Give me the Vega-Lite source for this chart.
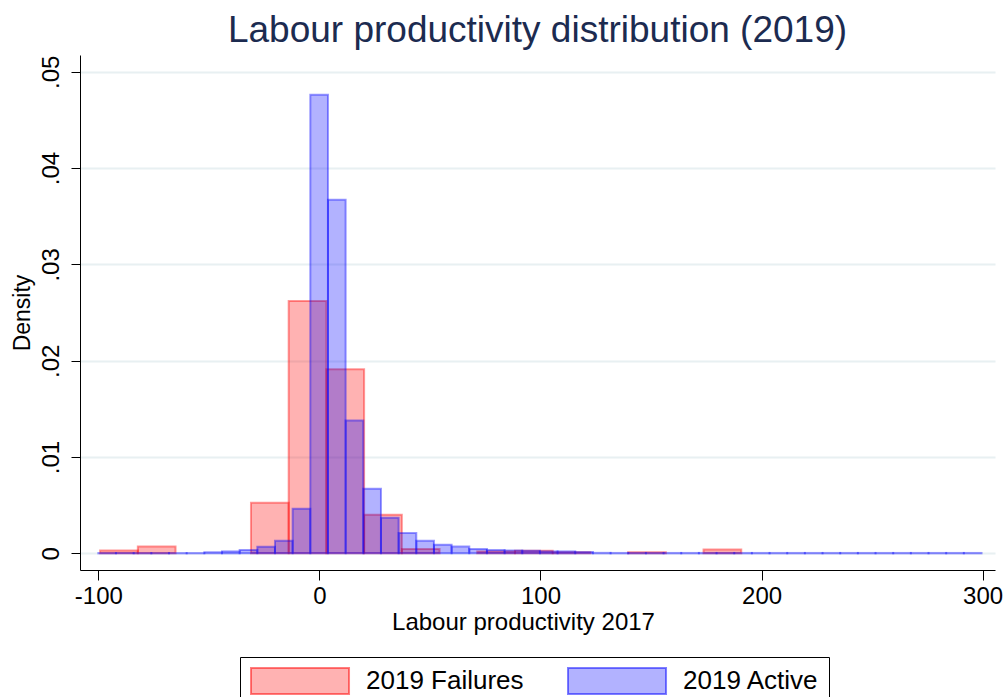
{
  "$schema": "https://vega.github.io/schema/vega-lite/v6.json",
  "width": 915,
  "height": 515,
  "autosize": {"type": "none"},
  "padding": {"left": 80, "top": 55, "right": 8, "bottom": 127},
  "background": "white",
  "title": {
    "text": "Labour productivity distribution (2019)",
    "font": "Liberation Sans",
    "fontSize": 37,
    "fontWeight": "normal",
    "color": "#1c2b50",
    "anchor": "middle",
    "baseline": "alphabetic",
    "offset": 13,
    "dy": 37,
    "frame": "group"
  },
  "config": {
    "font": "Liberation Sans",
    "view": {"stroke": null},
    "axis": {
      "labelColor": "black",
      "titleColor": "black",
      "domainColor": "black",
      "tickColor": "black",
      "labelFont": "Liberation Sans",
      "titleFont": "Liberation Sans",
      "titleFontWeight": "normal"
    }
  },
  "data": {
    "values": [
      {"series": "2019 Failures", "x0": -99.2, "x1": -82.14, "density": 0.00029},
      {"series": "2019 Failures", "x0": -82.14, "x1": -65.08, "density": 0.00072},
      {"series": "2019 Failures", "x0": -30.96, "x1": -13.9, "density": 0.00525},
      {"series": "2019 Failures", "x0": -13.9, "x1": 3.16, "density": 0.0262},
      {"series": "2019 Failures", "x0": 3.16, "x1": 20.22, "density": 0.0191},
      {"series": "2019 Failures", "x0": 20.22, "x1": 37.28, "density": 0.004},
      {"series": "2019 Failures", "x0": 37.28, "x1": 54.34, "density": 0.00045},
      {"series": "2019 Failures", "x0": 71.4, "x1": 88.46, "density": 0.0002},
      {"series": "2019 Failures", "x0": 88.46, "x1": 105.52, "density": 0.00028},
      {"series": "2019 Failures", "x0": 105.52, "x1": 122.58, "density": 0.0001},
      {"series": "2019 Failures", "x0": 139.64, "x1": 156.7, "density": 0.00012},
      {"series": "2019 Failures", "x0": 173.76, "x1": 190.82, "density": 0.0004},
      {"series": "2019 Active", "x0": -100.0, "x1": -92.01, "density": 0.00003},
      {"series": "2019 Active", "x0": -92.01, "x1": -84.02, "density": 0.00003},
      {"series": "2019 Active", "x0": -84.02, "x1": -76.03, "density": 0.00003},
      {"series": "2019 Active", "x0": -76.03, "x1": -68.04, "density": 0.00003},
      {"series": "2019 Active", "x0": -68.04, "x1": -60.05, "density": 0.00003},
      {"series": "2019 Active", "x0": -60.05, "x1": -52.06, "density": 0.00003},
      {"series": "2019 Active", "x0": -52.06, "x1": -44.07, "density": 0.00012},
      {"series": "2019 Active", "x0": -44.07, "x1": -36.08, "density": 0.0002},
      {"series": "2019 Active", "x0": -36.08, "x1": -28.09, "density": 0.00035},
      {"series": "2019 Active", "x0": -28.09, "x1": -20.1, "density": 0.00068},
      {"series": "2019 Active", "x0": -20.1, "x1": -12.11, "density": 0.0013},
      {"series": "2019 Active", "x0": -12.11, "x1": -4.12, "density": 0.00463},
      {"series": "2019 Active", "x0": -4.12, "x1": 3.87, "density": 0.0476},
      {"series": "2019 Active", "x0": 3.87, "x1": 11.86, "density": 0.0367},
      {"series": "2019 Active", "x0": 11.86, "x1": 19.85, "density": 0.0138},
      {"series": "2019 Active", "x0": 19.85, "x1": 27.84, "density": 0.0067},
      {"series": "2019 Active", "x0": 27.84, "x1": 35.83, "density": 0.0037},
      {"series": "2019 Active", "x0": 35.83, "x1": 43.82, "density": 0.0021},
      {"series": "2019 Active", "x0": 43.82, "x1": 51.81, "density": 0.0013},
      {"series": "2019 Active", "x0": 51.81, "x1": 59.8, "density": 0.0009},
      {"series": "2019 Active", "x0": 59.8, "x1": 67.79, "density": 0.0007},
      {"series": "2019 Active", "x0": 67.79, "x1": 75.78, "density": 0.00045},
      {"series": "2019 Active", "x0": 75.78, "x1": 83.77, "density": 0.00034},
      {"series": "2019 Active", "x0": 83.77, "x1": 91.76, "density": 0.0003},
      {"series": "2019 Active", "x0": 91.76, "x1": 99.75, "density": 0.00028},
      {"series": "2019 Active", "x0": 99.75, "x1": 107.74, "density": 0.0002},
      {"series": "2019 Active", "x0": 107.74, "x1": 115.73, "density": 0.0002},
      {"series": "2019 Active", "x0": 115.73, "x1": 123.72, "density": 0.00015},
      {"series": "2019 Active", "x0": 123.72, "x1": 131.71, "density": 0.00005},
      {"series": "2019 Active", "x0": 131.71, "x1": 139.7, "density": 0.00004},
      {"series": "2019 Active", "x0": 139.7, "x1": 147.69, "density": 0.00004},
      {"series": "2019 Active", "x0": 147.69, "x1": 155.68, "density": 0.00004},
      {"series": "2019 Active", "x0": 155.68, "x1": 163.67, "density": 0.00004},
      {"series": "2019 Active", "x0": 163.67, "x1": 171.66, "density": 0.00004},
      {"series": "2019 Active", "x0": 171.66, "x1": 179.65, "density": 0.00004},
      {"series": "2019 Active", "x0": 179.65, "x1": 187.64, "density": 0.00004},
      {"series": "2019 Active", "x0": 187.64, "x1": 195.63, "density": 0.00004},
      {"series": "2019 Active", "x0": 195.63, "x1": 203.62, "density": 0.00004},
      {"series": "2019 Active", "x0": 203.62, "x1": 211.61, "density": 0.00004},
      {"series": "2019 Active", "x0": 211.61, "x1": 219.6, "density": 0.00004},
      {"series": "2019 Active", "x0": 219.6, "x1": 227.59, "density": 0.00004},
      {"series": "2019 Active", "x0": 227.59, "x1": 235.58, "density": 0.00004},
      {"series": "2019 Active", "x0": 235.58, "x1": 243.57, "density": 0.00004},
      {"series": "2019 Active", "x0": 243.57, "x1": 251.56, "density": 0.00004},
      {"series": "2019 Active", "x0": 251.56, "x1": 259.55, "density": 0.00004},
      {"series": "2019 Active", "x0": 259.55, "x1": 267.54, "density": 0.00004},
      {"series": "2019 Active", "x0": 267.54, "x1": 275.53, "density": 0.00004},
      {"series": "2019 Active", "x0": 275.53, "x1": 283.52, "density": 0.00004},
      {"series": "2019 Active", "x0": 283.52, "x1": 291.51, "density": 0.00004},
      {"series": "2019 Active", "x0": 291.51, "x1": 299.5, "density": 0.00004}
    ]
  },
  "mark": {"type": "bar", "fillOpacity": 0.3, "strokeOpacity": 0.4, "strokeWidth": 2},
  "encoding": {
    "x": {
      "field": "x0",
      "type": "quantitative",
      "scale": {"domain": [-108.3, 305.6], "nice": false, "zero": false},
      "axis": {
        "values": [-100, 0, 100, 200, 300],
        "labelExpr": "toString(datum.value)",
        "grid": false,
        "labelFontSize": 24,
        "labelPadding": 4,
        "tickSize": 10,
        "labelFlush": false,
        "title": "Labour productivity 2017",
        "titleFontSize": 24,
        "titlePadding": 2,
        "titleX": 443,
        "titleAlign": "center"
      }
    },
    "x2": {"field": "x1"},
    "y": {
      "field": "density",
      "type": "quantitative",
      "stack": null,
      "scale": {"domain": [-0.00173, 0.05174], "nice": false, "zero": false},
      "axis": {
        "values": [0, 0.01, 0.02, 0.03, 0.04, 0.05],
        "labelExpr": "datum.value == 0 ? '0' : replace(format(datum.value, '.2f'), '0.', '.')",
        "labelAngle": -90,
        "labelAlign": "center",
        "labelBaseline": "bottom",
        "labelFontSize": 24,
        "labelPadding": 8,
        "labelFlush": false,
        "tickSize": 9,
        "grid": true,
        "gridColor": "#e8f0f2",
        "gridWidth": 2,
        "title": "Density",
        "titleFontSize": 23,
        "titlePadding": 5
      }
    },
    "y2": {"datum": 0},
    "fill": {
      "field": "series",
      "type": "nominal",
      "scale": {"domain": ["2019 Failures", "2019 Active"], "range": ["#ff0000", "#0000ff"]},
      "legend": {
        "orient": "none",
        "legendX": 160,
        "legendY": 602,
        "direction": "horizontal",
        "title": null,
        "symbolType": "M-1,-1H6.54V1H-1Z",
        "symbolSize": 676,
        "symbolStrokeWidth": 2,
        "labelFontSize": 26,
        "labelColor": "black",
        "labelOffset": 88,
        "columnPadding": 40,
        "padding": 10,
        "strokeColor": "black",
        "encode": {
          "symbols": {"update": {"fillOpacity": {"value": 0.3}, "strokeOpacity": {"value": 0.5}}}
        }
      }
    },
    "stroke": {
      "field": "series",
      "type": "nominal",
      "scale": {"domain": ["2019 Failures", "2019 Active"], "range": ["#ff0000", "#0000ff"]}
    }
  }
}
